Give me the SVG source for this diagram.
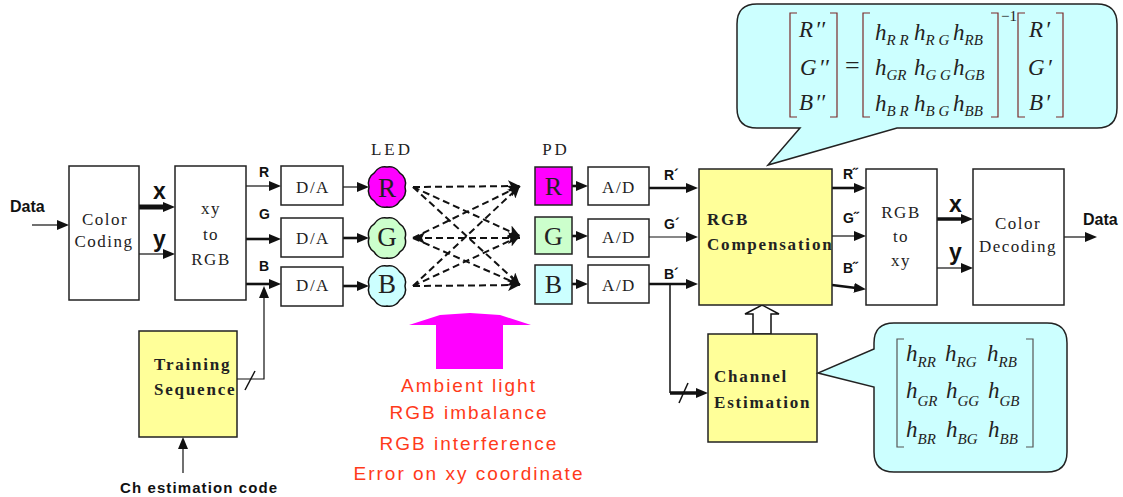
<svg xmlns="http://www.w3.org/2000/svg" width="1123" height="497" viewBox="0 0 1123 497">
<style>
.box{fill:#fff;stroke:#222;stroke-width:1.5}
.yel{fill:#ffff99;stroke:#222;stroke-width:1.5}
.serif{font-family:"Liberation Serif","DejaVu Serif",serif;fill:#222}
.lbl{font-family:"Liberation Serif","DejaVu Serif",serif;font-size:17px;letter-spacing:1.5px;fill:#222;text-anchor:middle}
.bold{font-family:"Liberation Serif","DejaVu Serif",serif;font-size:17px;font-weight:bold;letter-spacing:1.8px;fill:#222}
.sans{font-family:"Liberation Sans",Arial,sans-serif;font-weight:bold;fill:#111}
.red{font-family:"Liberation Sans",Arial,sans-serif;font-size:19px;letter-spacing:2px;fill:#ff3a1a;text-anchor:middle}
.math{font-family:"Liberation Serif","DejaVu Serif",serif;font-style:italic;font-size:23px;fill:#222}
.sub{font-size:15px}
.sub2{font-size:15px}
.thin{fill:none;stroke:#111;stroke-width:1.2;marker-end:url(#ah)}
.thick{fill:none;stroke:#111;stroke-width:2.6;marker-end:url(#ah)}
.dash{fill:none;stroke:#111;stroke-width:2;stroke-dasharray:7 4;marker-end:url(#dh)}
.brk{fill:none;stroke:#7a2a2a;stroke-width:1.2}
.callout{fill:#ccffff;stroke:#222;stroke-width:1.5}
</style>
<defs>
<marker id="ah" markerUnits="userSpaceOnUse" markerWidth="12" markerHeight="10" refX="2" refY="5" orient="auto"><path d="M0,0 L12,5 L0,10 z" fill="#111"/></marker>
<marker id="dh" markerUnits="userSpaceOnUse" markerWidth="12" markerHeight="12" refX="12" refY="6" orient="auto-start-reverse"><path d="M0,0 L12,6 L0,12 L3,6 z" fill="#111"/></marker>
<path id="blob" d="M18,0 A12,12 0 0 1 12.7,14.1 A12,12 0 0 1 0,20 A12,12 0 0 1 -12.7,14.1 A12,12 0 0 1 -18,0 A12,12 0 0 1 -12.7,-14.1 A12,12 0 0 1 0,-20 A12,12 0 0 1 12.7,-14.1 A12,12 0 0 1 18,0 Z"/>
</defs>
<rect width="1123" height="497" fill="#fff"/>

<g id="connectors">
<path class="thin" d="M32,225 H59"/>
<path d="M139,207 H165" fill="none" stroke="#111" stroke-width="5" marker-end="url(#ah)"/>
<path class="thin" d="M139,254 H165"/>
<path class="thin" d="M246,186 H271"/>
<path class="thick" d="M246,239 H271"/>
<path class="thick" d="M246,284 H271"/>
<path class="thin" d="M237,379 H264 V296"/>
<path d="M245,390 L255,371" stroke="#111" stroke-width="1.5"/>
<path class="thin" d="M183,473 V447"/>
<path class="thin" d="M343,187 H359"/>
<path class="thick" d="M343,238 H359"/>
<path class="thick" d="M343,286 H359"/>
<path class="dash" d="M413,187 L520,186"/>
<path class="dash" d="M413,187 L520,236"/>
<path class="dash" d="M413,187 L520,285"/>
<path class="dash" d="M520,238 L413,238" style="marker-start:url(#dh)"/>
<path class="dash" d="M413,238 L520,186"/>
<path class="dash" d="M413,238 L520,285"/>
<path class="dash" d="M413,286 L520,186"/>
<path class="dash" d="M413,286 L520,236"/>
<path class="dash" d="M413,286 L520,285"/>
<path class="thick" d="M572,186 H578"/>
<path class="thick" d="M572,236 H578"/>
<path class="thick" d="M572,284 H578"/>
<path class="thick" d="M649,188 H688"/>
<path class="thin" d="M649,237 H688"/>
<path class="thick" d="M649,284 H688"/>
<path d="M670,284 V393" fill="none" stroke="#111" stroke-width="1.5"/>
<path d="M670,393 H698" fill="none" stroke="#111" stroke-width="3.5" marker-end="url(#ah)"/>
<path d="M679,403 L688,383" stroke="#111" stroke-width="1.5"/>
<path class="thick" d="M832,188 H856"/>
<path class="thin" d="M832,236 H856"/>
<path class="thick" d="M832,285 L856,288"/>
<path d="M937,219 H963" fill="none" stroke="#111" stroke-width="3.5" marker-end="url(#ah)"/>
<path class="thin" d="M937,268 H963"/>
<path class="thin" d="M1064,237 H1087"/>
<polygon points="753,334 753,314 745,314 762,305 779,314 771,314 771,334" fill="#fff" stroke="#111" stroke-width="1.5"/>
</g>

<g id="data-in"><text class="sans" x="10" y="212" font-size="16">Data</text></g>
<g id="label-x1"><text class="sans" x="153" y="199" font-size="23">x</text></g>
<g id="label-y1"><text class="sans" x="153" y="247" font-size="23">y</text></g>

<g id="color-coding">
<rect class="box" x="69" y="166" width="70" height="134"/>
<text class="lbl" x="105" y="225">Color</text>
<text class="lbl" x="104" y="247">Coding</text>
</g>
<g id="xy-to-rgb">
<rect class="box" x="175" y="166" width="71" height="134"/>
<text class="lbl" x="211" y="214">xy</text>
<text class="lbl" x="211" y="240">to</text>
<text class="lbl" x="211" y="265">RGB</text>
</g>
<g id="rgb-labels">
<text class="sans" x="259" y="177" font-size="14">R</text>
<text class="sans" x="259" y="219" font-size="14">G</text>
<text class="sans" x="259" y="271" font-size="14">B</text>
</g>
<g id="da1"><rect class="box" x="281" y="166" width="62" height="39"/><text class="lbl" x="313" y="193">D/A</text></g>
<g id="da2"><rect class="box" x="281" y="218" width="62" height="39"/><text class="lbl" x="313" y="244">D/A</text></g>
<g id="da3"><rect class="box" x="281" y="267" width="62" height="39"/><text class="lbl" x="313" y="291">D/A</text></g>

<g id="led-label"><text class="lbl" x="392" y="155" font-size="15" style="letter-spacing:3px">LED</text></g>
<g id="led-r"><use href="#blob" x="387" y="187" fill="#ff00ff" stroke="#111" stroke-width="1.5"/><text class="serif" x="387" y="197" font-size="27" text-anchor="middle">R</text></g>
<g id="led-g"><use href="#blob" x="387" y="238" fill="#ccffcc" stroke="#111" stroke-width="1.5"/><text class="serif" x="387" y="246" font-size="27" text-anchor="middle">G</text></g>
<g id="led-b"><use href="#blob" x="387" y="286" fill="#ccffff" stroke="#111" stroke-width="1.5"/><text class="serif" x="387" y="293" font-size="27" text-anchor="middle">B</text></g>

<g id="pd-label"><text class="lbl" x="556" y="155" font-size="15" style="letter-spacing:3px">PD</text></g>
<g id="pd-r"><rect x="535" y="167" width="37" height="38" fill="#ff00ff" stroke="#222" stroke-width="1.5"/><text class="serif" x="553.5" y="195" font-size="26" text-anchor="middle">R</text></g>
<g id="pd-g"><rect x="535" y="217" width="37" height="37" fill="#ccffcc" stroke="#222" stroke-width="1.5"/><text class="serif" x="553.5" y="245" font-size="26" text-anchor="middle">G</text></g>
<g id="pd-b"><rect x="535" y="265" width="37" height="39" fill="#ccffff" stroke="#222" stroke-width="1.5"/><text class="serif" x="553.5" y="293" font-size="26" text-anchor="middle">B</text></g>

<g id="ad1"><rect class="box" x="588" y="167" width="61" height="38"/><text class="lbl" x="619" y="193">A/D</text></g>
<g id="ad2"><rect class="box" x="588" y="219" width="61" height="38"/><text class="lbl" x="619" y="243">A/D</text></g>
<g id="ad3"><rect class="box" x="588" y="265" width="61" height="38"/><text class="lbl" x="619" y="291">A/D</text></g>

<g id="prime-labels">
<text class="sans" x="664" y="180" font-size="14">R´</text>
<text class="sans" x="664" y="229" font-size="14">G´</text>
<text class="sans" x="664" y="279" font-size="14">B´</text>
</g>

<g id="rgb-compensation">
<rect class="yel" x="699" y="169" width="133" height="136"/>
<text class="bold" x="707" y="225">RGB</text>
<text class="bold" x="707" y="250">Compensation</text>
</g>

<g id="dprime-labels">
<text class="sans" x="843" y="179" font-size="14">R˝</text>
<text class="sans" x="843" y="223" font-size="14">G˝</text>
<text class="sans" x="843" y="273" font-size="14">B˝</text>
</g>

<g id="rgb-to-xy">
<rect class="box" x="866" y="169" width="71" height="136"/>
<text class="lbl" x="901" y="218">RGB</text>
<text class="lbl" x="901" y="242">to</text>
<text class="lbl" x="901" y="266">xy</text>
</g>
<g id="label-x2"><text class="sans" x="949" y="212" font-size="23">x</text></g>
<g id="label-y2"><text class="sans" x="949" y="260" font-size="23">y</text></g>

<g id="color-decoding">
<rect class="box" x="973" y="169" width="91" height="136"/>
<text class="lbl" x="1018" y="229">Color</text>
<text class="lbl" x="1018" y="252">Decoding</text>
</g>
<g id="data-out"><text class="sans" x="1083" y="225" font-size="16">Data</text></g>

<g id="training-sequence">
<rect class="yel" x="139" y="331" width="98" height="106"/>
<text class="bold" x="154" y="370">Training</text>
<text class="bold" x="154" y="395">Sequence</text>
</g>
<g id="ch-code"><text class="sans" x="120" y="493" font-size="15" style="letter-spacing:1.1px">Ch estimation code</text></g>

<g id="channel-estimation">
<rect class="yel" x="708" y="334" width="109" height="108"/>
<text class="bold" x="714" y="382">Channel</text>
<text class="bold" x="714" y="408">Estimation</text>
</g>

<g id="ambient">
<polygon points="409,325 440,315 470,313 500,315 531,325 503,325 503,369 436,369 436,325" fill="#ff00ff"/>
<text class="red" x="469" y="392">Ambient light</text>
<text class="red" x="469" y="419">RGB imbalance</text>
<text class="red" x="469" y="450">RGB interference</text>
<text class="red" x="469" y="480">Error on xy coordinate</text>
</g>

<g id="callout-top">
<path class="callout" d="M757,4 H1097 Q1117,4 1117,24 V108 Q1117,128 1097,128 H897 L768,165 L800,128 H757 Q737,128 737,108 V24 Q737,4 757,4 Z"/>
<path class="brk" d="M797,13 H790 V117 H797 M830,13 H837 V117 H830 M870,13 H863 V117 H870 M991,13 H998 V117 H991 M1025,13 H1018 V117 H1025 M1056,13 H1063 V117 H1056"/>
<text class="math" x="799" y="37">R<tspan dx="2">′</tspan><tspan dx="0">′</tspan></text>
<text class="math" x="800" y="75">G<tspan dx="2">′</tspan><tspan dx="0">′</tspan></text>
<text class="math" x="799" y="110">B<tspan dx="2">′</tspan><tspan dx="0">′</tspan></text>
<text class="serif" x="845" y="74" font-size="26">=</text>
<text class="math" x="875" y="40">h<tspan class="sub" dy="5">R R</tspan></text>
<text class="math" x="914" y="40">h<tspan class="sub" dy="5">R G</tspan></text>
<text class="math" x="953" y="40">h<tspan class="sub" dy="5">RB</tspan></text>
<text class="math" x="875" y="75">h<tspan class="sub" dy="5">GR</tspan></text>
<text class="math" x="914" y="75">h<tspan class="sub" dy="5">G G</tspan></text>
<text class="math" x="953" y="75">h<tspan class="sub" dy="5">GB</tspan></text>
<text class="math" x="875" y="111">h<tspan class="sub" dy="5">B R</tspan></text>
<text class="math" x="914" y="111">h<tspan class="sub" dy="5">B G</tspan></text>
<text class="math" x="953" y="111">h<tspan class="sub" dy="5">BB</tspan></text>
<text class="serif" x="1001" y="21" font-size="15">−1</text>
<text class="math" x="1029" y="37">R<tspan dx="2">′</tspan></text>
<text class="math" x="1028" y="75">G<tspan dx="2">′</tspan></text>
<text class="math" x="1029" y="110">B<tspan dx="2">′</tspan></text>
</g>

<g id="callout-bottom">
<path class="callout" d="M894,323 H1047 Q1067,323 1067,343 V452 Q1067,472 1047,472 H894 Q874,472 874,452 V387 L818,373 L874,349 V343 Q874,323 894,323 Z"/>
<path class="brk" style="stroke:#555" d="M904,339 H897 V447 H904 M1026,339 H1033 V447 H1026"/>
<text class="math" x="906" y="361">h<tspan class="sub2" dy="6">RR</tspan></text>
<text class="math" x="945" y="361">h<tspan class="sub2" dy="6">RG</tspan></text>
<text class="math" x="987" y="361">h<tspan class="sub2" dy="6">RB</tspan></text>
<text class="math" x="906" y="398">h<tspan class="sub2" dy="8">GR</tspan></text>
<text class="math" x="946" y="398">h<tspan class="sub2" dy="8">GG</tspan></text>
<text class="math" x="988" y="398">h<tspan class="sub2" dy="8">GB</tspan></text>
<text class="math" x="906" y="437">h<tspan class="sub2" dy="7">BR</tspan></text>
<text class="math" x="946" y="437">h<tspan class="sub2" dy="7">BG</tspan></text>
<text class="math" x="988" y="437">h<tspan class="sub2" dy="7">BB</tspan></text>
</g>
</svg>
